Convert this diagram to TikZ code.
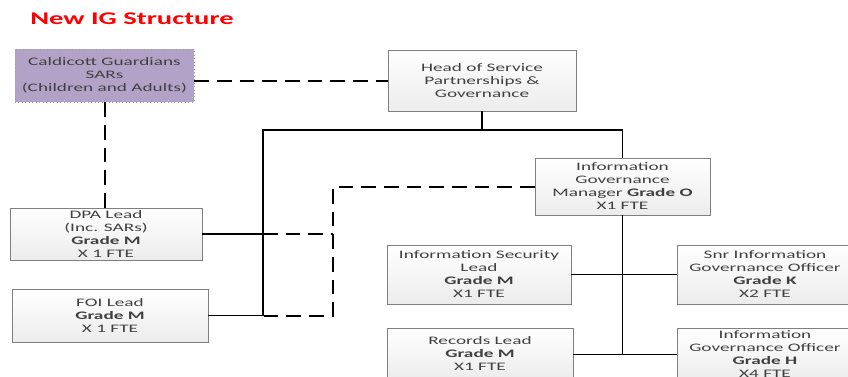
\documentclass[tikz,border=0pt]{standalone}
\usepackage{fontspec}
\setmainfont{Carlito}[FakeStretch=1.68]
\newfontfamily\titlefont{Carlito}[FakeStretch=1.6]
\usetikzlibrary{calc}
\definecolor{txtgrey}{HTML}{404040}
\definecolor{lilac}{HTML}{B3A2C7}
\definecolor{boxline}{HTML}{7F7F7F}
\tikzset{
  bx/.style n args={2}{minimum width=#1*0.75pt, minimum height=#2*0.75pt},
  base/.style={rectangle, inner sep=0pt, align=center, text=txtgrey,
    font=\fontsize{8.6}{9.75}\selectfont},
  sbox/.style={base, draw=boxline, line width=0.6pt, top color=white, bottom color=gray!15},
  dbox/.style={sbox, append after command={\pgfextra{\draw[boxline, line width=0.6pt]
    ([shift={(1.7pt,1.7pt)}]\tikzlastnode.south west) rectangle
    ([shift={(-1.7pt,-1.7pt)}]\tikzlastnode.north east);}}},
  pbox/.style={base, draw=gray!75, dotted, line width=0.6pt, fill=lilac},
  solidln/.style={line width=1.2pt, black},
  dashln/.style={line width=1.5pt, black, dash pattern=on 11pt off 6pt},
}
\begin{document}
\begin{tikzpicture}[x=0.75pt, y=-0.75pt]
\useasboundingbox (0,0) rectangle (848,376);
\clip (0,0) rectangle (848,376);
\fill[white] (0,0) rectangle (848,376);

\node[anchor=west, text=red, font=\titlefont\fontsize{13.4}{15}\selectfont\bfseries, inner sep=0pt] (title) at (30,19) {New IG Structure};

\node[pbox, bx={179}{53}] (cald) at (104.5,75.5) {Caldicott Guardians\\SARs\\(Children and Adults)};
\node[dbox, bx={188}{61}] (head) at (482,80.5) {Head of Service\\Partnerships \&\\Governance};
\node[dbox, bx={175}{57}] (igm) at (622.5,186.5) {Information\\Governance\\Manager \textbf{Grade O}\\X1 FTE};
\node[dbox, bx={192}{52}] (dpa) at (106,234) {DPA Lead\\(Inc. SARs)\\\textbf{Grade M}\\X 1 FTE};
\node[dbox, bx={196}{53}] (foi) at (110,315.5) {FOI Lead\\\textbf{Grade M}\\X 1 FTE};
\node[dbox, bx={184}{59}] (isl) at (479,274.5) {Information Security\\Lead\\\textbf{Grade M}\\X1 FTE};
\node[sbox, bx={176}{59}] (snr) at (765,274.5) {Snr Information\\Governance Officer\\\textbf{Grade K}\\X2 FTE};
\node[dbox, bx={186}{52}] (rec) at (480,354) {Records Lead\\\textbf{Grade M}\\X1 FTE};
\node[sbox, bx={176}{53}] (igo) at (765,354.5) {Information\\Governance Officer\\\textbf{Grade H}\\X4 FTE};

\coordinate (jL) at (263,130);
\coordinate (jR) at (622.5,130);
\coordinate (dX) at (333,0);

% solid connectors
\draw[solidln] (head.south) -- (head.south |- jL);
\draw[solidln] (foi.east) -- (foi.east -| jL) -- (jL) -- (jR) -- (igm.north);
\draw[solidln] (dpa.east) -- (dpa.east -| jL);
\draw[solidln] (igm.south) -- (igm.south |- igo.west);
\draw[solidln] (isl.east) -- (snr.west);
\draw[solidln] (rec.east |- igo.west) -- (igo.west);

% dashed connectors
\draw[dashln] (cald.east |- head.west) -- (head.west);
\draw[dashln] (cald.south) -- (cald.south |- dpa.north);
\draw[dashln] (igm.west) -- (igm.west -| dX) -- (foi.east -| dX) -- (foi.east -| jL);
\draw[dashln] (dpa.east -| jL) -- (dpa.east -| dX);
\end{tikzpicture}
\end{document}
